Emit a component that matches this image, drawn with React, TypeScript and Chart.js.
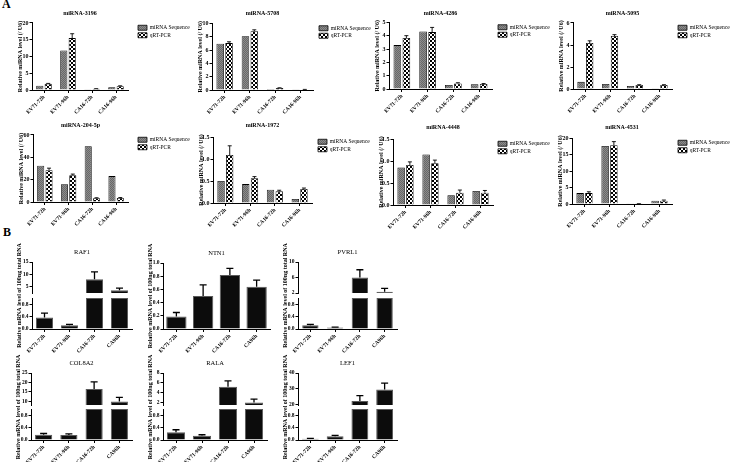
import React, { useEffect, useRef } from 'react';
import { Chart, registerables } from 'chart.js';

Chart.register(...registerables);
const FONT = "'Liberation Serif', 'Times New Roman', serif";
Chart.defaults.font.family = FONT;
Chart.defaults.color = '#000';

// ---------------- DATA ----------------
const catsA = ['EV71-72h', 'EV71-96h', 'CA16-72h', 'CA16-96h'];
const catsB = ['EV71-72h', 'EV71-96h', 'CA16-72h', 'CA96h'];
const seriesNames = ['miRNA Sequence', 'qRT-PCR'];
const yTitleA = 'Relative miRNA level (/ U6)';
const yTitleB = 'Relative mRNA level of 100ng total RNA';

const titlesA = ['miRNA-3196', 'miRNA-5708', 'miRNA-4286', 'miRNA-5095', 'miRNA-204-5p', 'miRNA-1972', 'miRNA-4448', 'miRNA-4531'];

const seq3196 = [1.3, 11.8, 0.1, 0.8];
const pcr3196 = [1.85, 15.5, 0.35, 1.1];
const err3196 = [0.12, 1.3, 0.05, 0.15];

const seq5708 = [6.95, 8.1, 0.15, 0.05];
const pcr5708 = [7.05, 8.85, 0.3, 0.08];
const err5708 = [0.2, 0.2, 0.03, 0.01];

const seq4286 = [3.3, 4.33, 0.3, 0.35];
const pcr4286 = [3.83, 4.28, 0.42, 0.38];
const err4286 = [0.18, 0.35, 0.05, 0.03];

const seq5095 = [0.65, 0.45, 0.27, 0.03];
const pcr5095 = [4.18, 4.82, 0.36, 0.37];
const err5095 = [0.2, 0.12, 0.03, 0.02];

const seq2045p = [32.5, 16, 50, 23.2];
const pcr2045p = [28.5, 24, 3.3, 3.6];
const err2045p = [1.8, 1, 0.5, 0.4];

const seq1972 = [0.5, 0.43, 0.3, 0.09];
const pcr1972 = [1.09, 0.56, 0.265, 0.32];
const err1972 = [0.21, 0.04, 0.025, 0.02];

const seq4448 = [0.85, 1.15, 0.22, 0.32];
const pcr4448 = [0.91, 0.95, 0.28, 0.28];
const err4448 = [0.07, 0.07, 0.06, 0.05];

const seq4531 = [3.3, 17.6, 0.05, 1.0];
const pcr4531 = [3.3, 17.8, 0.08, 1.0];
const err4531 = [0.4, 1.1, 0.01, 0.2];

const seqA = [seq3196, seq5708, seq4286, seq5095, seq2045p, seq1972, seq4448, seq4531];
const pcrA = [pcr3196, pcr5708, pcr4286, pcr5095, pcr2045p, pcr1972, pcr4448, pcr4531];
const errA = [err3196, err5708, err4286, err5095, err2045p, err1972, err4448, err4531];
const yMaxA = [20, 10, 5, 6, 60, 1.5, 1.5, 20];
const yStepA = [5, 2, 1, 2, 20, 0.5, 0.5, 5];
const yDecA = [0, 0, 0, 0, 0, 1, 1, 0];

const titlesB = ['RAF1', 'NTN1', 'PVRL1', 'COL8A2', 'RALA', 'LEF1'];
const valRAF1 = [0.37, 0.12, 8.0, 3.6];
const errRAF1 = [0.14, 0.03, 3.0, 0.9];
const valNTN1 = [0.19, 0.5, 0.82, 0.64];
const errNTN1 = [0.06, 0.17, 0.1, 0.1];
const valPVRL1 = [0.12, 0.05, 6.0, 2.3];
const errPVRL1 = [0.03, 0.01, 2.0, 0.9];
const valCOL8A2 = [0.17, 0.16, 16.5, 9.8];
const errCOL8A2 = [0.04, 0.04, 3.8, 2.2];
const valRALA = [0.25, 0.14, 5.2, 2.0];
const errRALA = [0.08, 0.03, 1.2, 0.7];
const valLEF1 = [0.04, 0.12, 22, 29.5];
const errLEF1 = [0.01, 0.03, 3.5, 4.0];

const valsB = [valRAF1, valNTN1, valPVRL1, valCOL8A2, valRALA, valLEF1];
const errsB = [errRAF1, errNTN1, errPVRL1, errCOL8A2, errRALA, errLEF1];
// upper (broken) axis: [min, max, step]; null = no break
const upperB: ([number, number, number] | null)[] = [[2.5, 15, 5], null, [2, 10, 2], [8, 25, 5], [1.5, 8, 2], [19.5, 40, 5]];

// ---------------- LAYOUT ----------------
const Y_W = 16;
const Y_WB = 17;
const X_H = 30;
const LEG_W = 62;

type AGeo = { plotL: number; plotR: number; plotT: number; plotB: number; titleY: number; legendX: number };
const geoA: AGeo[] = [
  { plotL: 32, plotR: 128, plotT: 23, plotB: 89.5, titleY: 13, legendX: 138 },
  { plotL: 212, plotR: 313, plotT: 23.5, plotB: 90, titleY: 13, legendX: 319 },
  { plotL: 389, plotR: 492, plotT: 22.5, plotB: 89.3, titleY: 13, legendX: 498 },
  { plotL: 573, plotR: 672, plotT: 23, plotB: 89, titleY: 13, legendX: 678 },
  { plotL: 33, plotR: 128, plotT: 135, plotB: 202, titleY: 125, legendX: 138 },
  { plotL: 213, plotR: 312, plotT: 137, plotB: 203, titleY: 125, legendX: 318 },
  { plotL: 393, plotR: 493, plotT: 139, plotB: 205, titleY: 127, legendX: 498 },
  { plotL: 572, plotR: 672, plotT: 138, plotB: 204, titleY: 127, legendX: 678 },
];

type BGeo = { plotL: number; plotR: number; titleY: number; top: number; hiBottom: number; loTop: number; bottom: number; barPct: number };
const geoB: BGeo[] = [
  { plotL: 32, plotR: 132, titleY: 252.5, top: 262, hiBottom: 293, loTop: 298, bottom: 329, barPct: 0.68 },
  { plotL: 163, plotR: 270, titleY: 253, top: 263, hiBottom: 0, loTop: 0, bottom: 329, barPct: 0.76 },
  { plotL: 298, plotR: 397, titleY: 252.5, top: 262, hiBottom: 293, loTop: 298, bottom: 329, barPct: 0.66 },
  { plotL: 31, plotR: 132, titleY: 363, top: 373, hiBottom: 405, loTop: 409, bottom: 440, barPct: 0.68 },
  { plotL: 163, plotR: 267, titleY: 363, top: 373, hiBottom: 405, loTop: 409, bottom: 440, barPct: 0.7 },
  { plotL: 298, plotR: 397, titleY: 363, top: 373, hiBottom: 405, loTop: 409, bottom: 440, barPct: 0.68 },
];

// ---------------- HELPERS ----------------
function makePattern(kind: 'gray' | 'check') {
  const c = document.createElement('canvas');
  c.width = 4; c.height = 4;
  const g = c.getContext('2d')!;
  if (kind === 'gray') {
    g.fillStyle = '#8c8c8c'; g.fillRect(0, 0, 4, 4);
    g.fillStyle = '#686868';
    for (let i = 0; i < 4; i++) for (let j = 0; j < 4; j++) if ((i + j) % 2 === 0) g.fillRect(i, j, 1, 1);
  } else {
    g.fillStyle = '#fff'; g.fillRect(0, 0, 4, 4);
    g.fillStyle = '#000';
    for (let i = 0; i < 4; i++) { g.fillRect(i, i, 1, 1); g.fillRect(3 - i, i, 1, 1); }
  }
  return g.createPattern(c, 'repeat')!;
}

const errorBarPlugin = {
  id: 'errbars',
  afterDatasetsDraw(chart: any) {
    const ctx = chart.ctx;
    chart.data.datasets.forEach((ds: any, i: number) => {
      if (!ds.errors) return;
      const meta = chart.getDatasetMeta(i);
      const ys = chart.scales[meta.yAxisID];
      meta.data.forEach((bar: any, j: number) => {
        const v = ds.data[j];
        const e = ds.errors[j];
        if (v == null || !e) return;
        const x = bar.x;
        const y0 = ys.getPixelForValue(v);
        const y1 = ys.getPixelForValue(v + e);
        const cap = ds.errCap || 4;
        ctx.save();
        ctx.strokeStyle = '#000';
        ctx.lineWidth = ds.errWidth || 1;
        ctx.beginPath();
        ctx.moveTo(x, y0); ctx.lineTo(x, y1);
        ctx.moveTo(x - cap / 2, y1); ctx.lineTo(x + cap / 2, y1);
        ctx.stroke();
        ctx.restore();
      });
    });
  },
};

// forces the legend box to a fixed width so the plot area stays where it should
function legendWidthPlugin(width: number) {
  return {
    id: 'legendWidth',
    beforeLayout(chart: any) {
      const lg = chart.legend;
      if (!lg || lg.__fixedW) return;
      const orig = lg.fit.bind(lg);
      lg.fit = function () { orig(); this.width = width; };
      lg.__fixedW = true;
    },
  };
}

function xScale(labels: string[], size: number) {
  return {
    type: 'category',
    labels,
    offset: true,
    grid: { display: true, drawOnChartArea: false, offset: false, tickLength: 3, color: '#000', lineWidth: 1 },
    border: { display: true, color: '#000', width: 1 },
    ticks: { autoSkip: false, maxRotation: 45, minRotation: 45, padding: 1, font: { family: FONT, size, weight: 'bold' }, color: '#000' },
    afterFit: (s: any) => { s.height = X_H; },
  };
}

function yScaleBase(min: number, max: number, step: number, dec: number, yw: number, fontSize: number, extra: any = {}) {
  return {
    type: 'linear',
    position: 'left',
    min, max,
    ticks: {
      stepSize: step, padding: 1, includeBounds: false,
      font: { family: FONT, size: fontSize, weight: 'bold' }, color: '#000',
      callback: (v: any) => (dec ? Number(v).toFixed(dec) : String(Math.round(Number(v)))),
    },
    grid: { display: true, drawOnChartArea: false, tickLength: 2.5, color: '#000', lineWidth: 1 },
    border: { display: true, color: '#000', width: 1 },
    afterFit: (s: any) => { s.width = yw; },
    ...extra,
  };
}

function buildA(k: number) {
  const g = geoA[k];
  const left = g.plotL - Y_W;
  const top = Math.round(g.titleY - 6);
  const padW = g.legendX - 2 - g.plotR;
  const width = Math.round(g.plotR - left + padW + LEG_W);
  const height = Math.round(g.plotB - top + X_H);
  const tPadTop = g.titleY - top - 3.6;
  const tPadBottom = g.plotT - top - tPadTop - 7.2;
  const make = () => ({
    type: 'bar',
    data: {
      labels: catsA,
      datasets: [
        { label: seriesNames[0], data: seqA[k], yAxisID: 'y', backgroundColor: makePattern('gray'), borderColor: '#000', borderWidth: 0.8, categoryPercentage: 0.7, barPercentage: 0.85 },
        { label: seriesNames[1], data: pcrA[k], errors: errA[k], errCap: 4, errWidth: 0.9, yAxisID: 'y', backgroundColor: makePattern('check'), borderColor: '#000', borderWidth: 0.8, categoryPercentage: 0.7, barPercentage: 0.85 },
      ],
    },
    options: {
      responsive: false, animation: false, devicePixelRatio: 1,
      layout: { padding: { left: 0, top: 0, right: 0, bottom: 0 } },
      plugins: {
        title: { display: true, text: titlesA[k], fullSize: false, font: { family: FONT, size: 6, weight: 'bold' }, color: '#000', padding: { top: tPadTop, bottom: tPadBottom } },
        legend: { display: true, position: 'right', align: 'start', fullSize: false, labels: { boxWidth: 9, boxHeight: 5, padding: 2, font: { family: FONT, size: 5.5 }, color: '#000' } },
        tooltip: { enabled: false },
      },
      scales: {
        x: xScale(catsA, 5.5),
        y: yScaleBase(0, yMaxA[k], yStepA[k], yDecA[k], Y_W, 6, {
          title: { display: true, text: yTitleA, font: { family: FONT, size: 6, weight: 'bold' }, color: '#000', padding: { top: Y_W - 11.5 - 3.6, bottom: 0 } },
        }),
        yPad: { type: 'linear', position: 'right', display: true, ticks: { display: false }, grid: { display: false }, border: { display: false }, afterFit: (s: any) => { s.width = padW; } },
      },
    },
    plugins: [errorBarPlugin, legendWidthPlugin(LEG_W)],
  });
  return { left, top, width, height, make };
}

function buildB(k: number) {
  const g = geoB[k];
  const up = upperB[k];
  const left = g.plotL - Y_WB;
  const top = Math.round(g.titleY - 40);
  const padR = 6;
  const width = Math.round(g.plotR - left + padR);
  const height = Math.round(g.bottom - top + X_H);
  const tPadTop = g.titleY - top - 3.9;
  const tPadBottom = g.top - top - tPadTop - 7.8;
  const vals = valsB[k];
  const errs = errsB[k];
  const yTitle = { display: true, text: yTitleB, font: { family: FONT, size: 6, weight: 'bold' }, color: '#000', padding: { top: Y_WB - 12.5 - 3.6, bottom: 0 } };
  const barStyle = { backgroundColor: '#0c0c0c', borderColor: '#5a5a5a', borderWidth: 1, grouped: false, categoryPercentage: 1, barPercentage: g.barPct, errCap: 7, errWidth: 1.3 };
  let datasets: any[];
  let scales: any;
  if (up) {
    const [umin, umax, ustep] = up;
    datasets = [
      { label: 'low', data: vals.map((v) => Math.min(v, 1)), errors: vals.map((v, i) => (v <= 1 ? errs[i] : 0)), yAxisID: 'yLo', ...barStyle },
      { label: 'high', data: vals.map((v) => (v > umin ? v : null)), errors: vals.map((v, i) => (v > umin ? errs[i] : 0)), yAxisID: 'yHi', ...barStyle },
    ];
    scales = {
      x: xScale(catsB, 5.5),
      yHi: yScaleBase(umin, umax, ustep, 0, Y_WB, 5.5, { stack: 'v', stackWeight: g.hiBottom - g.top, weight: 3 }),
      yGap: { type: 'linear', position: 'left', stack: 'v', stackWeight: g.loTop - g.hiBottom, weight: 2, display: true, ticks: { display: false }, grid: { display: false }, border: { display: false }, title: yTitle, afterFit: (s: any) => { s.width = Y_WB; } },
      yLo: yScaleBase(0, 1, 0.2, 1, Y_WB, 5.5, { stack: 'v', stackWeight: g.bottom - g.loTop, weight: 1 }),
    };
  } else {
    datasets = [{ label: 'val', data: vals, errors: errs, yAxisID: 'y', ...barStyle }];
    scales = {
      x: xScale(catsB, 5.5),
      y: yScaleBase(0, 1, 0.2, 1, Y_WB, 5.5, { title: yTitle }),
    };
  }
  const make = () => ({
    type: 'bar',
    data: { labels: catsB, datasets },
    options: {
      responsive: false, animation: false, devicePixelRatio: 1,
      layout: { padding: { left: 0, top: 0, right: padR, bottom: 0 } },
      plugins: {
        title: { display: true, text: titlesB[k], fullSize: false, font: { family: FONT, size: 6.5, weight: 'normal' }, color: '#000', padding: { top: tPadTop, bottom: tPadBottom } },
        legend: { display: false },
        tooltip: { enabled: false },
      },
      scales,
    },
    plugins: [errorBarPlugin],
  });
  return { left, top, width, height, make };
}

function ChartBox({ spec }: { spec: { left: number; top: number; width: number; height: number; make: () => any } }) {
  const ref = useRef<HTMLCanvasElement>(null);
  useEffect(() => {
    const chart = new Chart(ref.current as HTMLCanvasElement, spec.make());
    return () => chart.destroy();
  }, []);
  return (
    <canvas
      ref={ref}
      width={spec.width}
      height={spec.height}
      style={{ position: 'absolute', left: spec.left, top: spec.top, width: spec.width, height: spec.height, display: 'block' }}
    />
  );
}

export default function App() {
  const specsA = titlesA.map((_, k) => buildA(k));
  const specsB = titlesB.map((_, k) => buildB(k));
  const letter: React.CSSProperties = { position: 'absolute', fontFamily: FONT, fontWeight: 'bold', fontSize: 12, lineHeight: '12px', color: '#000' };
  return (
    <div style={{ position: 'fixed', left: 0, top: 0, width: 730, height: 462, background: '#fff', overflow: 'hidden' }}>
      <div style={{ ...letter, left: 2, top: -2 }}>A</div>
      <div style={{ ...letter, left: 3, top: 226 }}>B</div>
      {specsA.map((s, i) => <ChartBox key={'a' + i} spec={s} />)}
      {specsB.map((s, i) => <ChartBox key={'b' + i} spec={s} />)}
    </div>
  );
}
